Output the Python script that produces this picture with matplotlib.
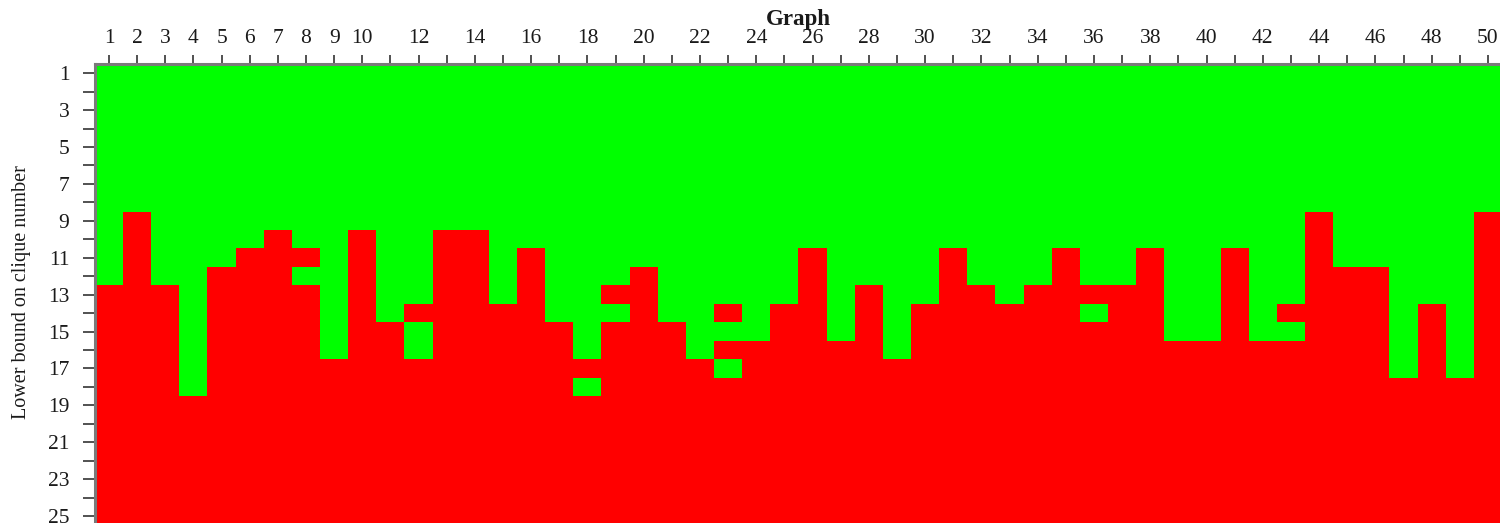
import numpy as np
import matplotlib
matplotlib.use("Agg")
import matplotlib.pyplot as plt
from matplotlib.colors import ListedColormap

# ---- data ----
graphs = list(range(1, 51))
rows = list(range(1, 27))
# first row (lower bound) that is red for each graph
first_red = [13, 9, 13, 19, 12, 11, 10, 11, 17, 10,
             15, 14, 10, 10, 14, 11, 15, 17, 13, 12,
             15, 17, 14, 16, 14, 11, 16, 13, 17, 14,
             11, 13, 14, 13, 11, 13, 13, 11, 16, 16,
             11, 16, 14, 9, 12, 12, 18, 14, 18, 9]
# green cells lying inside the red region: (graph, row)
green_exceptions = [(8, 12), (12, 15), (12, 16), (18, 18), (19, 14),
                    (23, 15), (23, 17), (36, 14), (43, 15)]
x_tick_labels = [str(g) if (g <= 10 or g % 2 == 0) else "" for g in graphs]
y_tick_major = list(range(1, 26, 2))
y_tick_minor = list(range(2, 26, 2))

GREEN = "#00FF00"
RED = "#FF0000"

# ---- build the grid ----
grid = np.zeros((len(rows), len(graphs)))
for j, fr in enumerate(first_red):
    for i, r in enumerate(rows):
        if r >= fr:
            grid[i, j] = 1
for g, r in green_exceptions:
    grid[rows.index(r), graphs.index(g)] = 0

plt.rcParams['font.family'] = ['Liberation Serif', 'DejaVu Serif']

W, H = 1500, 523
fig = plt.figure(figsize=(W / 100, H / 100), dpi=100)
ax = fig.add_axes([95 / W, -3 / H, 1407 / W, 462 / H])

ax.imshow(grid, cmap=ListedColormap([GREEN, RED]), vmin=0, vmax=1,
          aspect='auto', interpolation='nearest',
          extent=(0.5, len(graphs) + 0.5, len(rows) + 0.5, 0.5))
ax.set_xlim(0.5, 50.5)
ax.set_ylim(25.54, 0.5)

for s in ['bottom', 'right']:
    ax.spines[s].set_visible(False)
for s in ['left', 'top']:
    ax.spines[s].set_color('#7a7a7a')
    ax.spines[s].set_linewidth(2.2)

ax.xaxis.tick_top()
ax.set_xticks(graphs)
ax.set_xticklabels(x_tick_labels)
ax.set_yticks(y_tick_major)
ax.set_yticklabels([str(v) for v in y_tick_major])
ax.set_yticks(y_tick_minor, minor=True)

ax.tick_params(axis='x', which='both', direction='out', length=6.5, width=1.2,
               color='#333333', labelsize=15.5, pad=5, top=True, bottom=False,
               labelcolor='#1a1a1a')
ax.tick_params(axis='y', which='both', direction='out', length=8.5, width=1.2,
               color='#333333', labelsize=15.5, pad=10, labelcolor='#1a1a1a')

fig.text(798 / W, 1 - 19 / H, 'Graph', ha='center', va='center',
         fontsize=16.5, fontweight='bold', color='#1a1a1a')
fig.text(22 / W, 1 - 292 / H, 'Lower bound on clique number', ha='center',
         va='center', rotation=90, fontsize=14.5, color='#1a1a1a')

fig.savefig('out.png', dpi=100)
